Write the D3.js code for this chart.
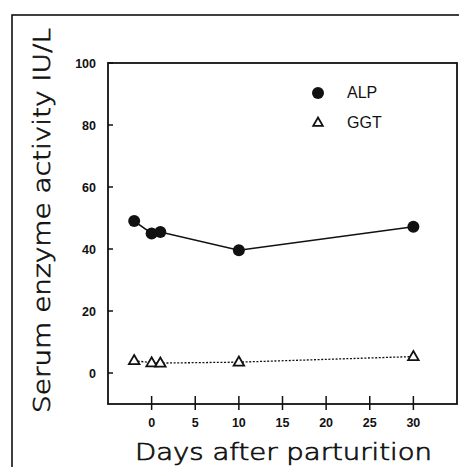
<!DOCTYPE html>
<html>
<head>
<meta charset="utf-8">
<script src="https://cdn.jsdelivr.net/npm/d3@7"></script>
<style>
  html, body { margin: 0; padding: 0; background: #fff; }
  svg { display: block; }
</style>
</head>
<body>
<svg id="chart" width="459" height="467"></svg>
<script>
// Serum enzyme activity around parturition
const days = [-2, 0, 1, 10, 30];
const alp = [49, 45, 45.5, 39.6, 47.2];
const ggt = [4, 3.3, 3.2, 3.5, 5.3];
const xTicks = [0, 5, 10, 15, 20, 25, 30];
const yTicks = [0, 20, 40, 60, 80, 100];
const seriesNames = ["ALP", "GGT"];

const svg = d3.select("#chart");
const ink = "#111";

const x = d3.scaleLinear().domain([-5, 35]).range([108, 457]);
const y = d3.scaleLinear().domain([-10, 100]).range([404, 63]);

// outer frame
svg.append("rect")
  .attr("x", 12).attr("y", 15)
  .attr("width", 470).attr("height", 480)
  .attr("fill", "none").attr("stroke", ink).attr("stroke-width", 1.6);

// plot box
svg.append("rect")
  .attr("x", x(-5)).attr("y", y(100))
  .attr("width", x(35) - x(-5)).attr("height", y(-10) - y(100))
  .attr("fill", "none").attr("stroke", ink).attr("stroke-width", 1.8);

const tickFont = "Liberation Sans, Arial, sans-serif";

// y axis ticks (inward) and labels
const yAxis = svg.append("g");
yAxis.selectAll("line").data(yTicks).join("line")
  .attr("x1", x(-5)).attr("x2", x(-5) + 5)
  .attr("y1", d => y(d)).attr("y2", d => y(d))
  .attr("stroke", ink).attr("stroke-width", 1.5);
yAxis.selectAll("text").data(yTicks).join("text")
  .attr("x", x(-5) - 12).attr("y", d => y(d))
  .attr("dy", "0.36em")
  .attr("text-anchor", "end")
  .attr("font-family", tickFont)
  .attr("font-weight", "bold")
  .attr("font-size", 12.5)
  .attr("fill", ink)
  .text(d => d);

// x axis ticks (crossing) and labels
const xAxis = svg.append("g");
xAxis.selectAll("line").data(xTicks).join("line")
  .attr("x1", d => x(d)).attr("x2", d => x(d))
  .attr("y1", y(-10) - 8).attr("y2", y(-10) + 6)
  .attr("stroke", ink).attr("stroke-width", 1.5);
xAxis.selectAll("text").data(xTicks).join("text")
  .attr("x", d => x(d)).attr("y", y(-10) + 14)
  .attr("dy", "0.71em")
  .attr("text-anchor", "middle")
  .attr("font-family", tickFont)
  .attr("font-weight", "bold")
  .attr("font-size", 12.5)
  .attr("fill", ink)
  .text(d => d);

// axis titles: thin face with a light outline for a medium stroke
const titleFont = "DejaVu Sans, sans-serif";
svg.append("text")
  .attr("x", 135).attr("y", 460)
  .attr("textLength", 297).attr("lengthAdjust", "spacingAndGlyphs")
  .attr("font-family", titleFont)
  .attr("font-weight", 200)
  .attr("font-size", 23)
  .attr("fill", ink)
  .attr("stroke", ink).attr("stroke-width", 0.7)
  .text("Days after parturition");

svg.append("text")
  .attr("transform", "translate(50,413) rotate(-90)")
  .attr("textLength", 385).attr("lengthAdjust", "spacingAndGlyphs")
  .attr("font-family", titleFont)
  .attr("font-weight", 200)
  .attr("font-size", 23.5)
  .attr("fill", ink)
  .attr("stroke", ink).attr("stroke-width", 0.7)
  .text("Serum enzyme activity IU/L");

// series
const pts = (vals) => days.map((d, i) => [d, vals[i]]);
const line = d3.line().x(d => x(d[0])).y(d => y(d[1]));

svg.append("path")
  .attr("d", line(pts(alp)))
  .attr("fill", "none").attr("stroke", ink).attr("stroke-width", 1.6);

svg.append("path")
  .attr("d", line(pts(ggt)))
  .attr("fill", "none").attr("stroke", ink).attr("stroke-width", 1.3)
  .attr("stroke-dasharray", "2,1.6");

const triangle = d3.symbol().type(d3.symbolTriangle).size(48);

svg.append("g").selectAll("circle").data(pts(alp)).join("circle")
  .attr("cx", d => x(d[0])).attr("cy", d => y(d[1]))
  .attr("r", 6).attr("fill", ink);

svg.append("g").selectAll("path").data(pts(ggt)).join("path")
  .attr("transform", d => `translate(${x(d[0])},${y(d[1]) + 0.5})`)
  .attr("d", triangle)
  .attr("fill", "#fff").attr("stroke", ink).attr("stroke-width", 1.8);

// legend
const legend = svg.append("g");
legend.append("circle").attr("cx", 318).attr("cy", 93).attr("r", 6).attr("fill", ink);
legend.append("path")
  .attr("transform", "translate(318,123)")
  .attr("d", d3.symbol().type(d3.symbolTriangle).size(40))
  .attr("fill", "#fff").attr("stroke", ink).attr("stroke-width", 1.8);
legend.selectAll("text").data(seriesNames).join("text")
  .attr("x", 347).attr("y", (d, i) => 98 + i * 30)
  .attr("font-family", tickFont)
  .attr("font-size", 16)
  .attr("fill", ink)
  .text(d => d);
</script>
</body>
</html>
